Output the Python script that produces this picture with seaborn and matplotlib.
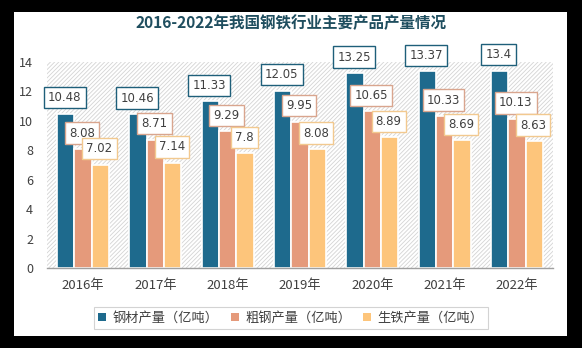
import matplotlib
matplotlib.use("Agg")
import matplotlib.pyplot as plt
import seaborn as sns
import pandas as pd
from matplotlib.patches import Rectangle, Patch

years = ["2016年", "2017年", "2018年", "2019年", "2020年", "2021年", "2022年"]
steel_products = [10.48, 10.46, 11.33, 12.05, 13.25, 13.37, 13.4]
crude_steel = [8.08, 8.71, 9.29, 9.95, 10.65, 10.33, 10.13]
pig_iron = [7.02, 7.14, 7.8, 8.08, 8.89, 8.69, 8.63]
series_names = ["钢材产量（亿吨）", "粗钢产量（亿吨）", "生铁产量（亿吨）"]
colors = ["#1E6A8D", "#E59A7B", "#FDC57B"]
edge_colors = ["#1E5F7A", "#D9A58E", "#F2C98F"]
title = "2016-2022年我国钢铁行业主要产品产量情况"
yticks = [0, 2, 4, 6, 8, 10, 12, 14]

sns.set_theme(style="white")
plt.rcParams['font.family'] = ['Noto Sans CJK SC', 'DejaVu Sans']
plt.rcParams['hatch.color'] = "#D4D4D4"
plt.rcParams['hatch.linewidth'] = 0.6

df = pd.DataFrame({
    "year": years * 3,
    "value": steel_products + crude_steel + pig_iron,
    "series": [series_names[0]] * 7 + [series_names[1]] * 7 + [series_names[2]] * 7,
})

fig = plt.figure(figsize=(5.82, 3.48), dpi=100)
fig.patch.set_facecolor("black")
fig.patches.append(Rectangle((14 / 582, 1 - 336 / 348), (567 - 14) / 582, (336 - 12) / 348,
                             transform=fig.transFigure, facecolor="white", edgecolor="none", zorder=-10))

ax = fig.add_axes([47 / 582, 1 - 268 / 348, (553 - 47) / 582, (268 - 62) / 348])
ax.set_zorder(1)
ax.set_facecolor("none")
ax.add_patch(Rectangle((0, 0), 1, 1, transform=ax.transAxes, facecolor="white",
                       edgecolor="#D4D4D4", hatch="////////", linewidth=0, zorder=0))

sns.barplot(data=df, x="year", y="value", hue="series", palette=colors, width=0.72,
            saturation=1, edgecolor="white", linewidth=1.2, ax=ax, legend=False, zorder=2)

ax.set_ylim(0, 14)
ax.set_xlim(-0.5, 6.5)
ax.set_yticks(yticks)
ax.set_yticklabels([str(t) for t in yticks])
ax.set_xlabel("")
ax.set_ylabel("")
for s in ["top", "right", "left"]:
    ax.spines[s].set_visible(False)
ax.spines["bottom"].set_color("#A0A0A0")
ax.spines["bottom"].set_linewidth(1.0)
ax.tick_params(axis="y", length=0, pad=10, labelsize=9, labelcolor="#404040")
ax.tick_params(axis="x", length=0, pad=8, labelsize=9.5, labelcolor="#404040")

for i, cont in enumerate(ax.containers):
    for bar in cont:
        h = bar.get_height()
        xc = bar.get_x() + bar.get_width() / 2
        ax.annotate(f"{h:g}", (xc, h), xytext=(-1, 16), textcoords="offset pixels",
                    ha="center", va="center", fontsize=8.5, color="#404040", zorder=5,
                    family=['DejaVu Sans'], annotation_clip=False,
                    bbox=dict(boxstyle="square,pad=0.35", facecolor="white",
                              edgecolor=edge_colors[i], linewidth=1.0))

fig.text(0.5, 1 - 23 / 348, title, ha="center", va="center", fontsize=11.2,
         fontweight="bold", color="#1F4E5F")

handles = [Patch(facecolor=c, edgecolor="none") for c in colors]
leg = fig.legend(handles, series_names, loc="center", bbox_to_anchor=(0.5, 1 - 318 / 348),
                 ncol=3, frameon=True, fontsize=9.5, handlelength=0.6, handleheight=0.6,
                 handletextpad=0.5, columnspacing=0.9, borderpad=0.35, fancybox=False)
leg.get_frame().set_edgecolor("#C8C8C8")
leg.get_frame().set_linewidth(0.8)
for t in leg.get_texts():
    t.set_color("#404040")

fig.savefig("out.png", dpi=100, facecolor=fig.get_facecolor())
